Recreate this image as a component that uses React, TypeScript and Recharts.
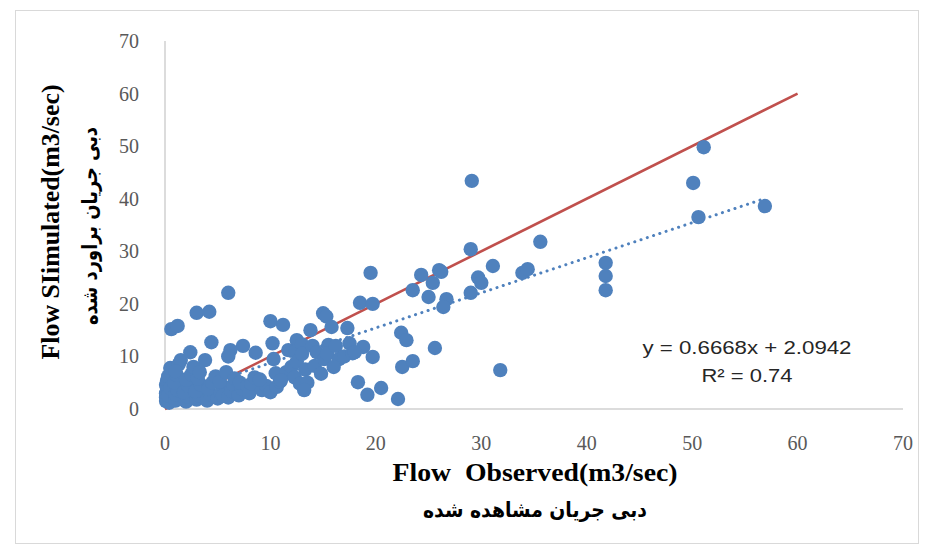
import React from "react";
import { ScatterChart, Scatter, XAxis, YAxis } from "recharts";

const observed: number[] = [
  0.1, 0.1, 0.1, 0.2, 0.1, 0.2, 0.3, 0.5, 0.4, 0.3, 0.5,
  1.0, 1.0, 1.2, 0.9, 1.1, 1.3, 1.5, 1.0,
  2.0, 2.1, 1.8, 2.2, 2.0, 2.5, 2.4, 2.7,
  3.0, 3.2, 2.9, 3.4, 3.1, 3.8, 3.3,
  4.0, 4.3, 4.1, 4.5, 4.4, 4.8,
  5.0, 5.3, 5.6, 5.2, 5.8, 5.5,
  6.0, 6.3, 6.5, 6.2, 6.0, 6.6,
  7.0, 7.3, 7.4, 7.1, 7.8,
  8.0, 8.2, 8.6, 8.5,
  9.2, 9.6, 9.0,
  10.0, 10.2, 10.3, 10.0, 10.5, 10.6, 10.9,
  11.2, 11.7, 11.5, 11.0,
  12.5, 12.4, 12.0, 12.5, 12.3, 12.8,
  13.0, 13.3, 13.5, 13.2, 13.8, 13.0,
  14.0, 14.4, 14.2, 14.8,
  15.0, 15.3, 15.8, 15.5, 15.1, 15.4,
  16.2, 16.5, 16.0,
  17.3, 17.5, 17.0, 17.8,
  18.8, 18.5, 18.3, 18.0,
  19.7, 19.7, 19.2, 19.5,
  20.5,
  22.4, 22.9, 22.5, 23.5, 22.1,
  23.5, 24.3, 25.4, 25.0, 26.0, 26.2, 26.7, 26.4, 25.6,
  29.1, 29.0, 29.0, 29.7, 30.0, 31.1, 31.8,
  33.9, 34.4, 35.6,
  41.8, 41.8, 41.8,
  50.1, 51.1, 50.6, 56.9,
  0.6, 1.2, 3.0, 4.2, 6.0,
];

const simulated: number[] = [
  1.5, 2.2, 3.0, 3.8, 4.6, 5.4, 6.2, 7.8, 1.2, 2.6, 4.0,
  1.6, 2.8, 3.6, 5.0, 6.5, 8.5, 9.3, 7.2,
  1.4, 2.4, 3.2, 4.4, 5.6, 6.6, 10.8, 8.0,
  1.8, 2.6, 3.4, 4.6, 5.8, 9.3, 7.0,
  1.6, 2.8, 3.8, 5.0, 12.7, 6.2,
  2.0, 3.0, 4.2, 5.2, 7.0, 2.5,
  2.2, 3.4, 4.6, 11.2, 10.0, 5.8,
  2.6, 3.8, 12.0, 5.0, 4.4,
  3.0, 4.8, 10.7, 6.0,
  3.6, 4.4, 5.6,
  16.7, 12.5, 9.5, 3.2, 6.8, 4.2, 5.2,
  16.0, 11.2, 7.0, 5.5,
  13.1, 11.0, 8.0, 9.0, 6.0, 4.8,
  12.3, 7.5, 5.0, 3.6, 15.0, 10.5,
  12.0, 10.8, 8.2, 6.7,
  18.2, 17.6, 15.6, 12.2, 9.5, 10.5,
  12.0, 9.5, 8.0,
  15.4, 12.5, 10.0, 10.6,
  11.8, 20.2, 5.1, 10.8,
  20.0, 9.9, 2.7, 25.9,
  4.0,
  14.5, 13.1, 8.0, 9.1, 1.9,
  22.6, 25.5, 24.0, 21.3, 26.4, 26.1, 20.9, 19.4, 11.6,
  43.4, 30.4, 22.1, 25.0, 24.0, 27.2, 7.4,
  25.9, 26.6, 31.8,
  27.8, 25.3, 22.6,
  43.0, 49.8, 36.5, 38.6,
  15.2, 15.8, 18.3, 18.5, 22.1,
];

const xTicks = [0, 10, 20, 30, 40, 50, 60, 70];
const yTicks = [0, 10, 20, 30, 40, 50, 60, 70];

// 1:1 line and linear trendline (from the equation printed on the chart)
const oneToOneX = [0, 60];
const slope = 0.6668;
const intercept = 2.0942;
const trendX = [0, 57];

const points = observed.map((x, i) => ({ x, y: simulated[i] }));
const oneToOne = oneToOneX.map((x) => ({ x, y: x }));
const trend = trendX.map((x) => ({ x, y: slope * x + intercept }));

const BLUE = "#4F81BD";
const RED = "#C0504D";
const SERIF = "'Liberation Serif', 'Times New Roman', serif";

const Dot = (p: any) => <circle cx={p.cx} cy={p.cy} r={7.2} fill={BLUE} />;
const NoDot = () => <g />;

const XTick = (p: any) => (
  <text x={p.x} y={p.y} textAnchor="middle" dominantBaseline="central" fontFamily={SERIF} fontSize={20} fill="#595959">
    {p.payload.value}
  </text>
);
const YTick = (p: any) => (
  <text x={p.x} y={p.y} textAnchor="end" dominantBaseline="central" fontFamily={SERIF} fontSize={20} fill="#595959">
    {p.payload.value}
  </text>
);

export default function App() {
  return (
    <div style={{ position: "absolute", left: 0, top: 0, width: 928, height: 555, background: "#fff" }}>
      <div
        style={{
          position: "absolute",
          left: 15,
          top: 10,
          width: 904,
          height: 534,
          border: "1px solid #d9d9d9",
          boxSizing: "border-box",
        }}
      />
      <div style={{ position: "absolute", left: 0, top: 0 }}>
        <ScatterChart width={928} height={555} margin={{ top: 41, right: 25, bottom: 116, left: 105 }}>
          <XAxis
            type="number"
            dataKey="x"
            domain={[0, 70]}
            ticks={xTicks}
            tickLine={false}
            axisLine={{ stroke: "#d0d0d0", strokeWidth: 1.5 }}
            tick={<XTick />}
            tickMargin={28}
            height={30}
            interval={0}
          />
          <YAxis
            type="number"
            dataKey="y"
            domain={[0, 70]}
            ticks={yTicks}
            tickLine={false}
            axisLine={{ stroke: "#d0d0d0", strokeWidth: 1.5 }}
            tick={<YTick />}
            tickMargin={20}
            width={60}
            interval={0}
          />
          <Scatter
            data={oneToOne}
            line={{ stroke: RED, strokeWidth: 2.6 }}
            shape={NoDot}
            isAnimationActive={false}
          />
          <Scatter
            data={trend}
            line={{ stroke: BLUE, strokeWidth: 3, strokeDasharray: "0.1 6.5", strokeLinecap: "round" }}
            shape={NoDot}
            isAnimationActive={false}
          />
          <Scatter data={points} shape={Dot} isAnimationActive={false} />
        </ScatterChart>
      </div>
      <svg
        width={928}
        height={555}
        style={{ position: "absolute", left: 0, top: 0, pointerEvents: "none" }}
      >
        <text
          transform="translate(50,222) rotate(-90)"
          textAnchor="middle"
          dominantBaseline="central"
          fontFamily={SERIF}
          fontWeight="bold"
          fontSize={25}
          fill="#000"
          textLength={275}
          lengthAdjust="spacingAndGlyphs"
        >
          Flow SIimulated(m3/sec)
        </text>
        <text
          transform="translate(90,226) rotate(-90)"
          textAnchor="middle"
          dominantBaseline="central"
          fontFamily="DejaVu Sans"
          fontWeight="bold"
          fontSize={21}
          fill="#000"
          direction="rtl"
          textLength={198}
          lengthAdjust="spacingAndGlyphs"
        >
          دبی جریان براورد شده
        </text>
        <text
          x={535}
          y={472}
          textAnchor="middle"
          dominantBaseline="central"
          fontFamily={SERIF}
          fontWeight="bold"
          fontSize={25}
          fill="#000"
          style={{ whiteSpace: "pre" }}
          textLength={285}
          lengthAdjust="spacingAndGlyphs"
        >
          Flow  Observed(m3/sec)
        </text>
        <text
          x={535}
          y={510}
          textAnchor="middle"
          dominantBaseline="central"
          fontFamily="DejaVu Sans"
          fontWeight="bold"
          fontSize={21}
          fill="#000"
          direction="rtl"
          textLength={224}
          lengthAdjust="spacingAndGlyphs"
        >
          دبی جریان مشاهده شده
        </text>
        <text
          x={747}
          y={347}
          textAnchor="middle"
          dominantBaseline="central"
          fontFamily="'Liberation Sans', Arial, sans-serif"
          fontSize={19}
          fill="#262626"
          textLength={209}
          lengthAdjust="spacingAndGlyphs"
        >
          y = 0.6668x + 2.0942
        </text>
        <text
          x={747}
          y={375}
          textAnchor="middle"
          dominantBaseline="central"
          fontFamily="'Liberation Sans', Arial, sans-serif"
          fontSize={19}
          fill="#262626"
          textLength={91}
          lengthAdjust="spacingAndGlyphs"
        >
          R² = 0.74
        </text>
      </svg>
    </div>
  );
}
